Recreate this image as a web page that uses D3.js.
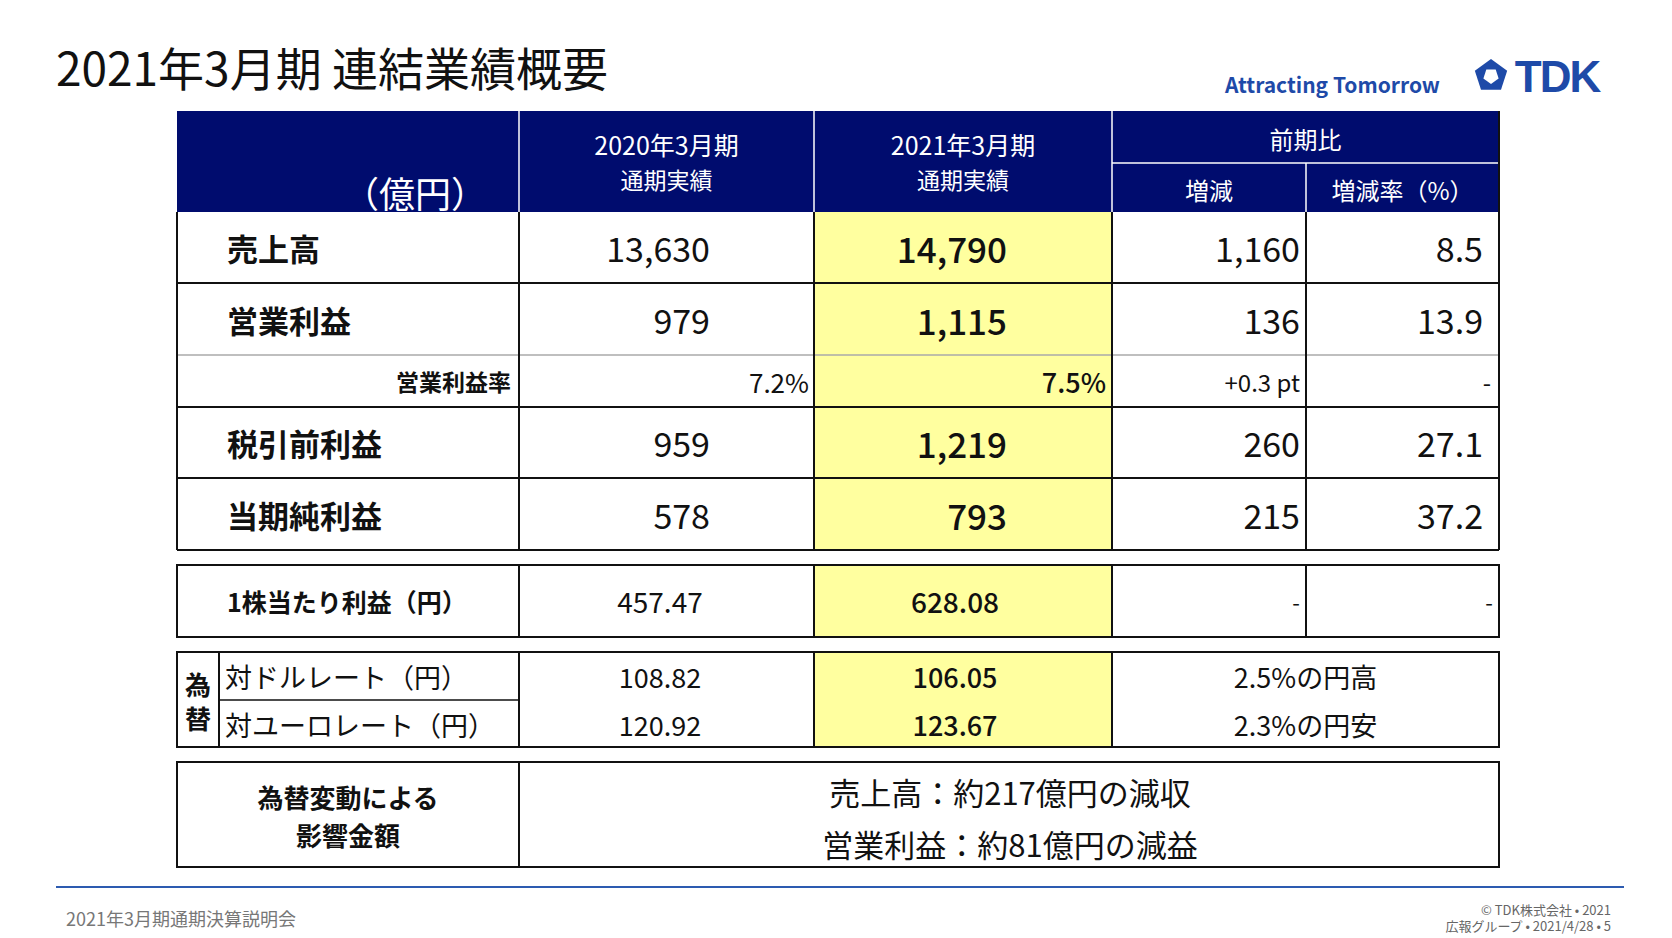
<!DOCTYPE html><html><head><meta charset="utf-8">
<script src="https://cdn.jsdelivr.net/npm/d3@7"></script>
<style>body{margin:0;background:#fff}svg{font-family:"Noto Sans CJK JP","Noto Sans",sans-serif}</style></head><body>
<script>
const rowLabels=["売上高","営業利益","営業利益率","税引前利益","当期純利益"];
const fy2020=["13,630","979","7.2%","959","578"];
const fy2021=["14,790","1,115","7.5%","1,219","793"];
const diff=["1,160","136","+0.3 pt","260","215"];
const rate=["8.5","13.9","-","27.1","37.2"];
const eps=["1株当たり利益（円）","457.47","628.08","-","-"];
const fxLabels=["対ドルレート（円）","対ユーロレート（円）"];
const fx2020=["108.82","120.92"];
const fx2021=["106.05","123.67"];
const fxNote=["2.5%の円高","2.3%の円安"];
const impact=["売上高：約217億円の減収","営業利益：約81億円の減益"];

const W=1672,H=938,navy="#000c6e",yel="#ffff9f",blue="#1e4aa8";
const svg=d3.select("body").append("svg").attr("width",W).attr("height",H);
const L=177,C1=519,C2=814,C3=1112,C4=1306,R=1499;
function t(xp,yp,s,size,opts={}){return svg.append("text").attr("x",xp).attr("y",yp).text(s).attr("font-size",size)
 .attr("text-anchor",opts.a||"start").attr("fill",opts.f||"#111").attr("font-weight",opts.w||400).attr("dominant-baseline","central");}
function line(x1,y1,x2,y2,c="#111",w=2){svg.append("line").attr("x1",x1).attr("y1",y1).attr("x2",x2).attr("y2",y2).attr("stroke",c).attr("stroke-width",w);}

t(56,66,"2021年3月期 連結業績概要",46,{w:400});
t(1440,84,"Attracting Tomorrow",21,{a:"end",f:blue,w:700});
const lg=svg.append("g").attr("transform","translate(1491,76)");
lg.append("polygon").attr("points",d3.range(5).map(i=>{const a=-Math.PI/2+i*2*Math.PI/5;return [17*Math.cos(a),17*Math.sin(a)]}).join(" ")).attr("fill",blue);
lg.append("polygon").attr("points",d3.range(5).map(i=>{const a=Math.PI/2+i*2*Math.PI/5;return [8*Math.cos(a),8*Math.sin(a)]}).join(" ")).attr("fill","#fff");
t(1557,76,"TDK",44,{a:"middle",f:blue,w:900}).attr("font-family","Liberation Sans").attr("letter-spacing",-2);

svg.append("rect").attr("x",L).attr("y",111).attr("width",R-L).attr("height",101).attr("fill",navy);
line(C3,163,R,163,"#fff",1.5);
[C1,C2,C3].forEach(c=>line(c,111,c,212,"#fff",1.5));line(C4,163,C4,212,"#fff",1.5);
t(415,192,"（億円）",36,{a:"middle",f:"#fff"});
[["2020年3月期",(C1+C2)/2],["2021年3月期",(C2+C3)/2]].forEach(([s,c])=>{t(c,144,s,25,{a:"middle",f:"#fff"});t(c,179,"通期実績",23,{a:"middle",f:"#fff"});});
t((C3+R)/2,138,"前期比",24,{a:"middle",f:"#fff"});
t((C3+C4)/2,189,"増減",24,{a:"middle",f:"#fff"});
t((C4+R)/2,189,"増減率（%）",24,{a:"middle",f:"#fff"});

const rowsY=[212,283,355,407,478,550];
svg.append("rect").attr("x",C2).attr("y",212).attr("width",C3-C2).attr("height",338).attr("fill",yel);
rowLabels.forEach((lab,i)=>{
 const yc=(rowsY[i]+rowsY[i+1])/2, small=i==2;
 if(small){t(C1-8,yc,lab,23,{a:"end",w:700});t(C2-5,yc,fy2020[i],26,{a:"end"});t(C3-6,yc,fy2021[i],27,{a:"end",w:500});t(C4-6,yc,diff[i],24,{a:"end"});t(R-8,yc,rate[i],24,{a:"end"});}
 else{t(227,yc,lab,31,{w:700});t(710,yc,fy2020[i],34,{a:"end"});t(1007,yc,fy2021[i],35,{a:"end",w:500});t(C4-6,yc,diff[i],34,{a:"end"});t(R-16,yc,rate[i],34,{a:"end"});}
 if(i>0) line(L,rowsY[i],R,rowsY[i],i==2?"#aaa":"#111",i==2?1.5:2);
});
line(L,212,L,550);line(R,111,R,550);line(L,550,R,550);
[C1,C2,C3,C4].forEach(c=>line(c,212,c,550));

svg.append("rect").attr("x",C2).attr("y",565).attr("width",C3-C2).attr("height",72).attr("fill",yel);
svg.append("rect").attr("x",L).attr("y",565).attr("width",R-L).attr("height",72).attr("fill","none").attr("stroke","#111").attr("stroke-width",2);
[C1,C2,C3,C4].forEach(c=>line(c,565,c,637));
t(227,601,eps[0],25,{w:700});t(660,601,eps[1],28,{a:"middle"});t(955,601,eps[2],28,{a:"middle",w:500});t(C4-6,601,eps[3],22,{a:"end"});t(R-6,601,eps[4],22,{a:"end"});

svg.append("rect").attr("x",C2).attr("y",652).attr("width",C3-C2).attr("height",95).attr("fill",yel);
svg.append("rect").attr("x",L).attr("y",652).attr("width",R-L).attr("height",95).attr("fill","none").attr("stroke","#111").attr("stroke-width",2);
[219,C1,C2,C3].forEach(c=>line(c,652,c,747));line(219,700,C1,700,"#111",1.5);
t(198,683,"為",26,{a:"middle",w:700});t(198,717,"替",26,{a:"middle",w:700});
fxLabels.forEach((l,i)=>{const yc=i?724:676;t(225,yc,l,27);t(660,yc,fx2020[i],27,{a:"middle"});t(955,yc,fx2021[i],27,{a:"middle",w:500});t((C3+R)/2,yc,fxNote[i],27,{a:"middle"});});

svg.append("rect").attr("x",L).attr("y",762).attr("width",R-L).attr("height",105).attr("fill","none").attr("stroke","#111").attr("stroke-width",2);
line(C1,762,C1,867);
t(348,796,"為替変動による",26,{a:"middle",w:700});t(348,834,"影響金額",26,{a:"middle",w:700});
impact.forEach((s,i)=>t(1010,i?843:791,s,31,{a:"middle"}));

line(56,887,1624,887,"#2d5bb0",2);
t(66,918,"2021年3月期通期決算説明会",18,{f:"#777"});
t(1611,909,"© TDK株式会社 • 2021",13,{a:"end",f:"#666"});
t(1611,925,"広報グループ • 2021/4/28 • 5",13,{a:"end",f:"#666"});
</script></body></html>
